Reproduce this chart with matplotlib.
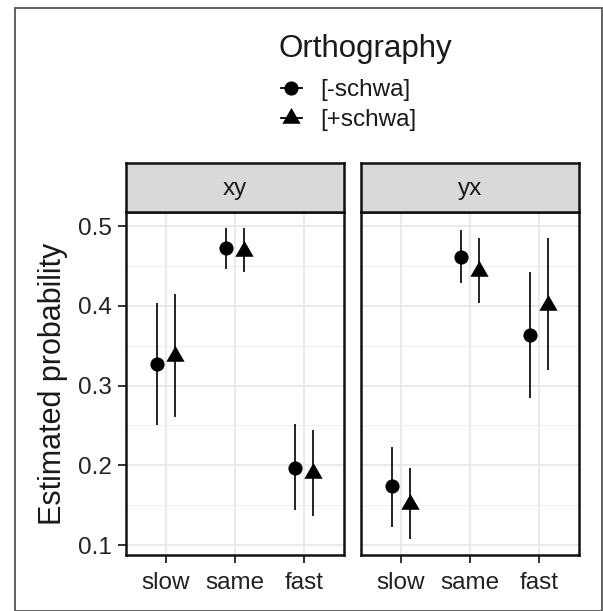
import matplotlib
matplotlib.use("Agg")
import matplotlib.pyplot as plt
from matplotlib.lines import Line2D
from matplotlib.patches import Rectangle
import numpy as np

plt.rcParams['font.family'] = ['Liberation Sans', 'DejaVu Sans']

speeds = ['slow', 'same', 'fast']
panels = ['xy', 'yx']
groups = ['[-schwa]', '[+schwa]']

# estimate, lower, upper per panel / group / speed
est = {
    'xy': {'[-schwa]': [0.327, 0.472, 0.197], '[+schwa]': [0.337, 0.469, 0.190]},
    'yx': {'[-schwa]': [0.174, 0.461, 0.363], '[+schwa]': [0.151, 0.444, 0.401]},
}
lower = {
    'xy': {'[-schwa]': [0.251, 0.446, 0.144], '[+schwa]': [0.260, 0.442, 0.136]},
    'yx': {'[-schwa]': [0.123, 0.428, 0.284], '[+schwa]': [0.107, 0.403, 0.320]},
}
upper = {
    'xy': {'[-schwa]': [0.404, 0.498, 0.252], '[+schwa]': [0.415, 0.498, 0.244]},
    'yx': {'[-schwa]': [0.223, 0.495, 0.442], '[+schwa]': [0.196, 0.485, 0.485]},
}
yticks = [0.1, 0.2, 0.3, 0.4, 0.5]

# ggplot-like equilateral triangle centred on its centroid
tri = [(-1, -0.577), (1, -0.577), (0, 1.155), (-1, -0.577)]
markers = ['o', tri]
msizes = [10.2, 15.2]

fig = plt.figure(figsize=(6.03, 6.11), dpi=100)
fig.patches.append(Rectangle((15/603, 0), 1 - 16/603, 1 - 8/611, transform=fig.transFigure,
                             fill=False, edgecolor='#555555', linewidth=1.3))

lefts = [126/603, 361/603]
w = 218/603
bot = 1 - 555/611
h = 343/611
sh = 49/611
dodge = [-0.125, 0.125]
x = np.arange(1, 4)

for pi, (panel, lx) in enumerate(zip(panels, lefts)):
    ax = fig.add_axes([lx, bot, w, h])
    ax.set_xlim(0.42, 3.58)
    ax.set_ylim(0.0875, 0.5176)
    ax.set_yticks(yticks)
    ax.set_yticks([0.15, 0.25, 0.35, 0.45], minor=True)
    ax.set_xticks(x)
    ax.set_xticklabels(speeds, fontsize=17.5)
    ax.grid(True, which='major', color='#e8e8e8', linewidth=1.3)
    ax.grid(True, which='minor', axis='y', color='#efefef', linewidth=0.8)
    ax.set_axisbelow(True)
    ax.tick_params(axis='both', which='minor', length=0)
    ax.tick_params(axis='both', which='major', length=5.5, width=1.3, color='#222222',
                   labelcolor='#222222')
    ax.tick_params(axis='x', pad=7)
    ax.tick_params(axis='y', pad=5)
    if pi == 0:
        ax.set_yticklabels(['%.1f' % t for t in yticks], fontsize=17.5)
        ax.set_ylabel('Estimated probability', fontsize=22, color='#1a1a1a')
        ax.yaxis.set_label_coords(-0.265, 0.5)
    else:
        ax.tick_params(axis='y', left=False, labelleft=False)
    for s in ax.spines.values():
        s.set_linewidth(1.8)
        s.set_color('#111111')
    for gi, g in enumerate(groups):
        xs = x + dodge[gi]
        e = np.array(est[panel][g])
        lo = np.array(lower[panel][g])
        hi = np.array(upper[panel][g])
        ax.vlines(xs, lo, hi, color='#111111', linewidth=1.3, zorder=3)
        ax.plot(xs, e, linestyle='none', marker=markers[gi], color='black',
                markersize=msizes[gi], markeredgewidth=0, zorder=4)
    # strip
    sax = fig.add_axes([lx, bot + h, w, sh])
    sax.set_facecolor('#d9d9d9')
    sax.set_xticks([])
    sax.set_yticks([])
    for s in sax.spines.values():
        s.set_linewidth(1.8)
        s.set_color('#111111')
    sax.text(0.5, 0.47, panel, ha='center', va='center', fontsize=17.5, color='#1a1a1a',
             transform=sax.transAxes)

fig.text(279/603, 1 - 49/611, 'Orthography', ha='left', va='center', fontsize=22.5,
         color='#1a1a1a')
handles = [Line2D([0], [0], color='black', linewidth=1.3, marker=m, markersize=s,
                  markeredgewidth=0)
           for m, s in zip(markers, msizes)]
leg = fig.legend(handles, groups, loc='upper left', bbox_to_anchor=(281/603, 1 - 79/611),
                 frameon=False, fontsize=17.5, borderpad=0, borderaxespad=0,
                 handlelength=0.85, handletextpad=0.75, labelspacing=0.33)
for t in leg.get_texts():
    t.set_color('#1a1a1a')
fig.savefig('out.png', dpi=100)
